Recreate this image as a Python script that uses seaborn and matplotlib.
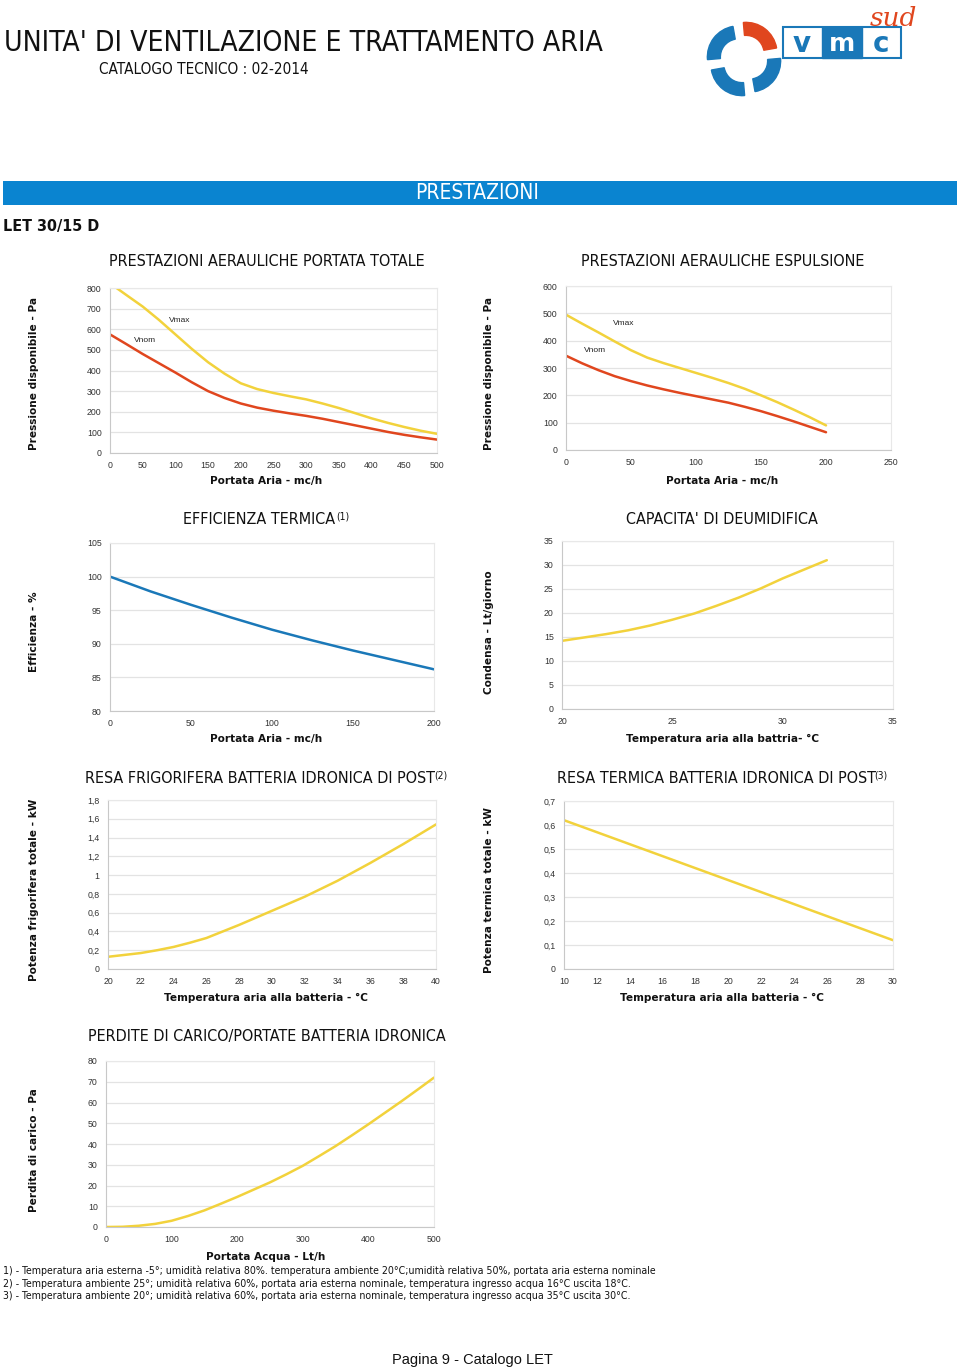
import numpy as np
import pandas as pd
import matplotlib
matplotlib.use("Agg")
import matplotlib.pyplot as plt
import seaborn as sns
from matplotlib.ticker import FuncFormatter, MultipleLocator
from matplotlib.patches import Rectangle, Wedge

# ---------------- DATA ----------------
# Chart 1: Prestazioni aerauliche portata totale
c1_x_max = [10, 25, 50, 75, 100, 125, 150, 175, 200, 225, 250, 275, 300, 325, 350, 375, 400, 425, 450, 475, 500]
c1_vmax = [800, 766, 710, 645, 575, 505, 440, 385, 338, 310, 291, 275, 260, 240, 218, 193, 168, 146, 126, 108, 93]
c1_x_nom = [0, 25, 50, 75, 100, 125, 150, 175, 200, 225, 250, 275, 300, 325, 350, 375, 400, 425, 450, 475, 500]
c1_vnom = [575, 528, 480, 435, 390, 343, 300, 267, 240, 220, 205, 192, 180, 166, 150, 134, 118, 102, 88, 76, 65]

# Chart 2: Prestazioni aerauliche espulsione
c2_x = [0, 12.5, 25, 37.5, 50, 62.5, 75, 87.5, 100, 112.5, 125, 137.5, 150, 162.5, 175, 187.5, 200]
c2_vmax = [495, 462, 430, 397, 365, 338, 318, 300, 282, 264, 245, 224, 200, 175, 148, 120, 90]
c2_vnom = [345, 317, 292, 270, 252, 236, 222, 209, 197, 185, 173, 158, 142, 124, 105, 85, 65]

# Chart 3: Efficienza termica
c3_x = [0, 25, 50, 75, 100, 125, 150, 175, 200]
c3_eff = [100, 97.8, 95.8, 93.9, 92.1, 90.5, 89.0, 87.6, 86.2]

# Chart 4: Capacita' di deumidifica
c4_x = [20, 21, 22, 23, 24, 25, 26, 27, 28, 29, 30, 31, 32]
c4_cond = [14.2, 14.9, 15.6, 16.4, 17.4, 18.6, 19.9, 21.5, 23.2, 25.1, 27.2, 29.1, 31.0]

# Chart 5: Resa frigorifera
c5_x = [20, 21, 22, 23, 24, 25, 26, 27, 28, 29, 30, 31, 32, 33, 34, 35, 36, 37, 38, 39, 40]
c5_kw = [0.13, 0.15, 0.17, 0.2, 0.235, 0.28, 0.33, 0.4, 0.47, 0.545, 0.62, 0.695, 0.77,
         0.855, 0.94, 1.035, 1.13, 1.23, 1.33, 1.435, 1.54]

# Chart 6: Resa termica
c6_x = [10, 15, 20, 25, 30]
c6_kw = [0.62, 0.495, 0.37, 0.245, 0.12]

# Chart 7: Perdite di carico
c7_x = [0, 25, 50, 75, 100, 125, 150, 175, 200, 225, 250, 275, 300, 325, 350, 375, 400, 425, 450, 475, 500]
c7_pa = [0, 0.1, 0.6, 1.5, 3, 5.3, 8, 11.2, 14.5, 18, 21.5, 25.4, 29.5, 34.2, 39, 44.2, 49.5, 55, 60.5, 66.2, 72]

footnotes = [
    "1) - Temperatura aria esterna -5°; umidità relativa 80%. temperatura ambiente 20°C;umidità relativa 50%, portata aria esterna nominale",
    "2) - Temperatura ambiente 25°; umidità relativa 60%, portata aria esterna nominale, temperatura ingresso acqua 16°C uscita 18°C.",
    "3) - Temperatura ambiente 20°; umidità relativa 60%, portata aria esterna nominale, temperatura ingresso acqua 35°C uscita 30°C.",
]

YELLOW = "#f2d23c"
RED = "#e0461e"
BLUE = "#1a78b8"

sns.set_theme(style="white")
plt.rcParams['font.family'] = ['DejaVu Sans']

W, H = 960, 1371
fig = plt.figure(figsize=(W / 100, H / 100), dpi=100)
fig.patch.set_facecolor("white")

COND = dict(family="DejaVu Sans", fontstretch="condensed")


def fx(x):
    return x / W


def fy(y):
    return 1 - y / H


def add_ax(l, t, r, b):
    return fig.add_axes([fx(l), fy(b), (r - l) / W, (b - t) / H])


def style_ax(ax, xlim, ylim, xstep, ystep, fmt=None):
    ax.set_xlim(*xlim)
    ax.set_ylim(*ylim)
    ax.xaxis.set_major_locator(MultipleLocator(xstep))
    ax.yaxis.set_major_locator(MultipleLocator(ystep))
    ax.grid(axis="y", color="#e3e3e3", lw=0.9)
    ax.grid(axis="x", visible=False)
    for s in ["top", "right"]:
        ax.spines[s].set_color("#e8e8e8")
        ax.spines[s].set_linewidth(0.8)
    for s in ["left", "bottom"]:
        ax.spines[s].set_color("#c8c8c8")
        ax.spines[s].set_linewidth(0.8)
    ax.tick_params(axis="both", length=0, labelsize=6.3, colors="#333333", pad=6)
    for lab in ax.get_xticklabels() + ax.get_yticklabels():
        lab.set_family("Liberation Sans")
    if fmt is not None:
        ax.yaxis.set_major_formatter(FuncFormatter(fmt))
    ax.set_xlabel("")
    ax.set_ylabel("")
    leg = ax.get_legend()
    if leg is not None:
        leg.remove()


def comma(v, pos):
    s = ("%.1f" % v).rstrip("0").rstrip(".")
    return s.replace(".", ",")


def xlabel(txt, x, y):
    fig.text(fx(x), fy(y), txt, ha="center", va="center", fontsize=7.6,
             fontweight="bold", color="#111111")


def ylabel(txt, x, y):
    fig.text(fx(x), fy(y), txt, ha="center", va="center", fontsize=7.6,
             fontweight="bold", rotation=90, color="#111111")


def title(txt, x, y, ha="left"):
    return fig.text(fx(x), fy(y), txt, ha=ha, va="center", fontsize=11.5, color="#111111", **COND)


def sup(txt, x, y):
    fig.text(fx(x), fy(y), txt, ha="left", va="center", fontsize=7.5, color="#111111", **COND)


LW = 1.8

# ---------- Header ----------
fig.text(fx(4), fy(43), "UNITA' DI VENTILAZIONE E TRATTAMENTO ARIA", ha="left", va="center",
         fontsize=20.3, color="#111111", **COND)
fig.text(fx(99), fy(69), "CATALOGO TECNICO : 02-2014", ha="left", va="center",
         fontsize=11, color="#111111", **COND)

# Logo
lax = fig.add_axes([fx(705), fy(100), 250 / W, 100 / H])
lax.set_xlim(705, 955)
lax.set_ylim(100, 0)
lax.axis("off")
cx, cy = 744, 59
for ang, col in [(100, BLUE), (190, BLUE), (280, BLUE), (10, RED)]:
    lax.add_patch(Wedge((cx + 6 * np.cos(np.radians(ang + 60)), cy - 6 * np.sin(np.radians(ang + 60))),
                        31, -ang - 85, -ang, width=13, color=col))
lax.add_patch(Rectangle((783, 27), 118, 31, fill=False, ec=BLUE, lw=1.5))
lax.add_patch(Rectangle((822, 27), 40, 31, color=BLUE))
lax.text(802, 44, "v", ha="center", va="center", fontsize=20, color=BLUE, fontweight="bold")
lax.text(842, 44, "m", ha="center", va="center", fontsize=18, color="white", fontweight="bold")
lax.text(881, 44, "c", ha="center", va="center", fontsize=20, color=BLUE, fontweight="bold")
fig.text(fx(893), fy(19), "sud", ha="center", va="center", fontsize=19, color=RED, style="italic",
         family="DejaVu Serif")

# Blue bar
bax = fig.add_axes([fx(3), fy(205), (957 - 3) / W, 24 / H])
bax.set_xlim(0, 1)
bax.set_ylim(0, 1)
bax.axis("off")
bax.add_patch(Rectangle((0, 0), 1, 1, color="#0a84d0"))
fig.text(fx(477), fy(193), "PRESTAZIONI", ha="center", va="center", fontsize=15,
         color="white", **COND)
fig.text(fx(3), fy(227), "LET 30/15 D", ha="left", va="center", fontsize=11.5,
         fontweight="bold", color="#111111", **COND)

# ---------- Chart 1 ----------
ax1 = add_ax(110, 288, 437, 453)
d1a = pd.DataFrame({"x": c1_x_max, "y": c1_vmax})
d1b = pd.DataFrame({"x": c1_x_nom, "y": c1_vnom})
sns.lineplot(data=d1a, x="x", y="y", ax=ax1, color=YELLOW, lw=LW, sort=False)
sns.lineplot(data=d1b, x="x", y="y", ax=ax1, color=RED, lw=LW, sort=False)
style_ax(ax1, (0, 500), (0, 800), 50, 100)
ax1.text(90, 635, "Vmax", fontsize=6, family="Liberation Sans", color="#222222")
ax1.text(37, 538, "Vnom", fontsize=6, family="Liberation Sans", color="#222222")
title("PRESTAZIONI AERAULICHE PORTATA TOTALE", 109, 261)
xlabel("Portata Aria - mc/h", 266, 481)
ylabel("Pressione disponibile - Pa", 34, 373)

# ---------- Chart 2 ----------
ax2 = add_ax(566, 286, 891, 450)
d2a = pd.DataFrame({"x": c2_x, "y": c2_vmax})
d2b = pd.DataFrame({"x": c2_x, "y": c2_vnom})
sns.lineplot(data=d2a, x="x", y="y", ax=ax2, color=YELLOW, lw=LW, sort=False)
sns.lineplot(data=d2b, x="x", y="y", ax=ax2, color=RED, lw=LW, sort=False)
style_ax(ax2, (0, 250), (0, 600), 50, 100)
ax2.text(36, 458, "Vmax", fontsize=6, family="Liberation Sans", color="#222222")
ax2.text(14, 358, "Vnom", fontsize=6, family="Liberation Sans", color="#222222")
title("PRESTAZIONI AERAULICHE ESPULSIONE", 723, 261, ha="center")
xlabel("Portata Aria - mc/h", 722, 481)
ylabel("Pressione disponibile - Pa", 489, 373)

# ---------- Chart 3 ----------
ax3 = add_ax(110, 543, 434, 711)
sns.lineplot(data=pd.DataFrame({"x": c3_x, "y": c3_eff}), x="x", y="y", ax=ax3,
             color=BLUE, lw=LW)
style_ax(ax3, (0, 200), (80, 105), 50, 5)
title("EFFICIENZA TERMICA", 183, 520)
sup("(1)", 336, 517)
xlabel("Portata Aria - mc/h", 266, 739)
ylabel("Efficienza - %", 34, 632)

# ---------- Chart 4 ----------
ax4 = add_ax(562, 541, 893, 709)
sns.lineplot(data=pd.DataFrame({"x": c4_x, "y": c4_cond}), x="x", y="y", ax=ax4,
             color=YELLOW, lw=LW)
style_ax(ax4, (20, 35), (0, 35), 5, 5)
title("CAPACITA' DI DEUMIDIFICA", 722, 520, ha="center")
xlabel("Temperatura aria alla battria- °C", 722, 739)
ylabel("Condensa - Lt/giorno", 489, 632)

# ---------- Chart 5 ----------
ax5 = add_ax(108, 800, 436, 969)
sns.lineplot(data=pd.DataFrame({"x": c5_x, "y": c5_kw}), x="x", y="y", ax=ax5,
             color=YELLOW, lw=LW)
style_ax(ax5, (20, 40), (0, 1.8), 2, 0.2, fmt=comma)
title("RESA FRIGORIFERA BATTERIA IDRONICA DI POST", 85, 778)
sup("(2)", 434, 775)
xlabel("Temperatura aria alla batteria - °C", 266, 998)
ylabel("Potenza frigorifera totale - kW", 34, 890)

# ---------- Chart 6 ----------
ax6 = add_ax(564, 801, 893, 969)
sns.lineplot(data=pd.DataFrame({"x": c6_x, "y": c6_kw}), x="x", y="y", ax=ax6,
             color=YELLOW, lw=LW)
style_ax(ax6, (10, 30), (0, 0.7), 2, 0.1, fmt=comma)
title("RESA TERMICA BATTERIA IDRONICA DI POST", 557, 778)
sup("(3)", 874, 775)
xlabel("Temperatura aria alla batteria - °C", 722, 998)
ylabel("Potenza termica totale - kW", 489, 890)

# ---------- Chart 7 ----------
ax7 = add_ax(106, 1061, 434, 1227)
sns.lineplot(data=pd.DataFrame({"x": c7_x, "y": c7_pa}), x="x", y="y", ax=ax7,
             color=YELLOW, lw=LW)
style_ax(ax7, (0, 500), (0, 80), 100, 10)
title("PERDITE DI CARICO/PORTATE BATTERIA IDRONICA", 88, 1037)
xlabel("Portata Acqua - Lt/h", 266, 1257)
ylabel("Perdita di carico - Pa", 34, 1150)

# Footnotes
for i, t in enumerate(footnotes):
    fig.text(fx(3), fy(1271 + i * 12.5), t, ha="left", va="center", fontsize=7.6,
             color="#111111", **COND)

fig.text(fx(472), fy(1360), "Pagina 9 - Catalogo LET", ha="center", va="center",
         fontsize=10.5, family="Liberation Sans", color="#111111")

fig.savefig("out.png", dpi=100, facecolor="white")
